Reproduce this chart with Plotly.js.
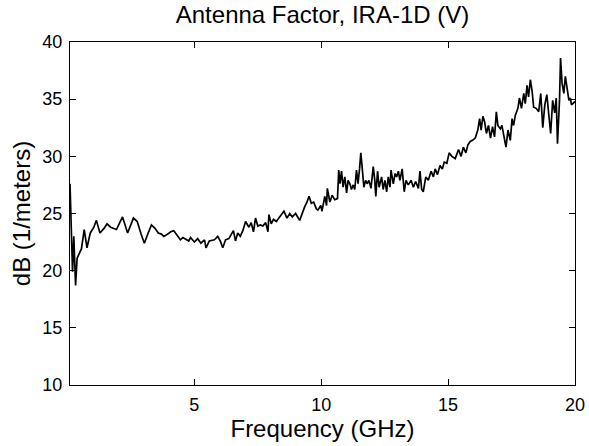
<!DOCTYPE html>
<html>
<head>
<meta charset="utf-8">
<script src="https://cdn.plot.ly/plotly-3.0.1.min.js"></script>
<style>
  html, body { margin: 0; padding: 0; background: #ffffff; }
  #chart { width: 589px; height: 446px; }
</style>
</head>
<body>
<div id="chart"></div>
<script>
// Measured antenna factor of the IRA-1D, V polarisation
const freqGHz = [
  0.10, 0.15, 0.20, 0.25, 0.32, 0.38, 0.46, 0.55, 0.66, 0.77, 0.90, 1.04, 1.14, 1.28, 1.44,
  1.56, 1.70, 1.93, 2.17, 2.37, 2.60, 2.75, 2.90, 3.03, 3.18, 3.31, 3.45, 3.58, 3.70, 3.80,
  3.95, 4.07, 4.19, 4.30, 4.45, 4.55, 4.65, 4.78, 4.85, 5.00, 5.13, 5.26, 5.40, 5.46, 5.59,
  5.79, 5.92, 6.02, 6.12, 6.23, 6.36, 6.45, 6.54, 6.62, 6.71, 6.81, 6.91, 7.02, 7.15, 7.24,
  7.33, 7.41, 7.50, 7.60, 7.70, 7.81, 7.90, 7.94, 8.03, 8.12, 8.23, 8.36, 8.53, 8.65, 8.76,
  8.86, 8.99, 9.15, 9.28, 9.35, 9.42, 9.52, 9.61, 9.70, 9.81, 9.87, 9.98, 10.03, 10.14, 10.21,
  10.24, 10.34, 10.43, 10.53, 10.64, 10.69, 10.74, 10.80, 10.86, 10.93, 11.00, 11.06, 11.13, 11.19, 11.26,
  11.32, 11.39, 11.45, 11.51, 11.56, 11.61, 11.68, 11.75, 11.81, 11.88, 11.96, 12.05, 12.11, 12.15, 12.22,
  12.28, 12.38, 12.44, 12.51, 12.58, 12.64, 12.71, 12.75, 12.84, 12.91, 12.97, 13.04, 13.10, 13.19, 13.27,
  13.34, 13.43, 13.54, 13.63, 13.72, 13.83, 13.89, 13.96, 14.02, 14.12, 14.22, 14.33, 14.42, 14.49, 14.58,
  14.68, 14.77, 14.85, 14.95, 15.04, 15.15, 15.28, 15.41, 15.51, 15.60, 15.70, 15.78, 15.87, 15.96, 16.07,
  16.17, 16.24, 16.30, 16.37, 16.44, 16.51, 16.59, 16.67, 16.75, 16.83, 16.90, 16.96, 17.06, 17.12, 17.20,
  17.28, 17.36, 17.45, 17.52, 17.58, 17.65, 17.75, 17.81, 17.89, 17.98, 18.04, 18.11, 18.17, 18.24, 18.31,
  18.37, 18.47, 18.57, 18.65, 18.73, 18.81, 18.89, 18.96, 19.04, 19.12, 19.20, 19.26, 19.31, 19.39, 19.43,
  19.49, 19.56, 19.62, 19.70, 19.76, 19.82, 19.86, 20.00
];

const antennaFactorDb = [
  27.6, 23.5, 19.9, 23.0, 18.7, 21.1, 21.5, 21.9, 23.6, 22.0, 23.3, 23.8, 24.4, 23.3, 23.7,
  24.1, 23.8, 23.6, 24.7, 23.3, 24.6, 24.3, 23.2, 22.4, 23.3, 24.0, 23.7, 23.3, 23.2, 23.0,
  23.2, 23.4, 23.5, 23.2, 22.7, 22.9, 22.8, 22.6, 22.9, 22.5, 22.8, 22.4, 22.7, 22.0, 22.6,
  22.7, 23.0, 22.6, 22.0, 22.7, 22.8, 23.1, 23.5, 22.6, 23.3, 23.0, 23.5, 24.3, 23.8, 24.2,
  23.4, 24.6, 23.9, 24.0, 23.9, 24.2, 23.4, 24.9, 24.1, 24.5, 24.3, 24.7, 25.2, 24.6, 25.0,
  24.7, 25.0, 24.4, 25.3, 25.6, 25.9, 26.5, 25.9, 26.0, 25.4, 25.3, 25.7, 25.2, 26.5, 25.7,
  27.2, 26.0, 26.6, 26.2, 26.3, 28.8, 27.6, 28.7, 27.3, 28.2, 26.8, 27.9, 27.6, 27.1, 27.5,
  27.1, 28.8, 27.6, 28.9, 30.3, 29.1, 27.3, 27.9, 27.6, 27.9, 27.2, 29.1, 27.9, 26.5, 28.7,
  27.3, 28.2, 27.1, 27.9, 26.9, 28.2, 27.3, 28.8, 27.6, 28.5, 28.2, 28.7, 27.9, 28.9, 26.9,
  27.9, 27.5, 27.9, 27.3, 27.8, 27.2, 28.7, 27.1, 26.9, 28.2, 27.9, 28.7, 28.2, 28.9, 28.4,
  29.2, 28.9, 29.5, 29.4, 30.3, 30.0, 29.8, 30.6, 30.0, 30.8, 30.3, 31.0, 31.3, 31.4, 31.6,
  32.3, 33.3, 32.3, 33.5, 33.0, 32.0, 32.7, 31.6, 32.6, 31.7, 33.9, 32.7, 32.4, 32.7, 31.9,
  30.8, 32.3, 31.4, 33.3, 32.7, 33.6, 34.2, 35.1, 34.2, 35.5, 34.6, 36.2, 35.2, 36.7, 35.7,
  34.3, 34.2, 33.9, 35.5, 32.5, 34.5, 35.4, 33.5, 32.0, 34.9, 33.8, 35.1, 31.1, 34.9, 38.6,
  36.4, 35.5, 37.0, 35.8, 34.9, 35.1, 34.5, 34.8
];

const xTickVals = [5, 10, 15, 20];
const yTickVals = [10, 15, 20, 25, 30, 35, 40];

const FONT = 'Arial, "Liberation Sans", sans-serif';

const trace = {
  x: freqGHz,
  y: antennaFactorDb,
  type: 'scatter',
  mode: 'lines',
  line: { color: '#000000', width: 1.7 },
  hoverinfo: 'x+y'
};

const axisCommon = {
  showgrid: false,
  zeroline: false,
  showline: true,
  linecolor: '#000000',
  linewidth: 1,
  mirror: 'ticks',
  ticks: 'inside',
  ticklen: 6,
  tickwidth: 1,
  tickcolor: '#000000',
  tickfont: { family: FONT, size: 18, color: '#000000' },
  automargin: false
};

const layout = {
  width: 589,
  height: 446,
  paper_bgcolor: '#ffffff',
  plot_bgcolor: '#ffffff',
  margin: { l: 70, r: 14, t: 42, b: 61, pad: 0 },
  showlegend: false,
  title: {
    text: 'Antenna Factor, IRA-1D (V)',
    font: { family: FONT, size: 24, color: '#000000' },
    x: 0.5,
    xanchor: 'center',
    y: 0.968,
    yanchor: 'middle',
    xref: 'paper',
    yref: 'container'
  },
  xaxis: Object.assign({}, axisCommon, {
    range: [0.1, 20],
    tickmode: 'array',
    tickvals: xTickVals,
    ticktext: xTickVals.map(String),
    ticklabelstandoff: 3,
    title: {
      text: 'Frequency (GHz)',
      font: { family: FONT, size: 24, color: '#000000' },
      standoff: 2
    }
  }),
  yaxis: Object.assign({}, axisCommon, {
    range: [10, 40],
    tickmode: 'array',
    tickvals: yTickVals,
    ticktext: yTickVals.map(String),
    ticklabelstandoff: 3,
    title: {
      text: 'dB (1/meters)',
      font: { family: FONT, size: 24, color: '#000000' },
      standoff: 4
    }
  })
};

Plotly.newPlot('chart', [trace], layout, { displayModeBar: false, staticPlot: true });
</script>
</body>
</html>
